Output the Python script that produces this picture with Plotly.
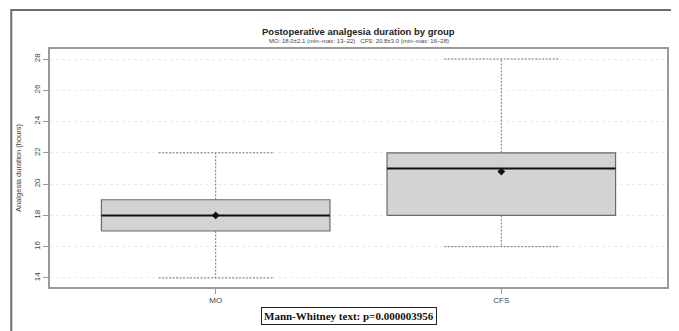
import plotly.graph_objects as go

# ---- data ----
groups = ["MO", "CFS"]
positions = [1, 2]
q1 = [17, 18]
medians = [18, 21]
q3 = [19, 22]
whisk_low = [14, 16]
whisk_high = [22, 28]
means = [18.0, 20.8]
y_ticks = [14, 16, 18, 20, 22, 24, 26, 28]

title = "Postoperative analgesia duration by group"
subtitle = "MO: 18.0±2.1 (min–max: 13–22)   CFS: 20.8±3.0 (min–max: 16–28)"
ylabel = "Analgesia duration (hours)"
note = "Mann-Whitney text: p=0.000003956"

BOX_HALF = 0.4
CAP_HALF = 0.2

fig = go.Figure()

for i, g in enumerate(groups):
    x = positions[i]
    # box
    fig.add_trace(go.Scatter(
        x=[x - BOX_HALF, x + BOX_HALF, x + BOX_HALF, x - BOX_HALF, x - BOX_HALF],
        y=[q1[i], q1[i], q3[i], q3[i], q1[i]],
        mode="lines", fill="toself", fillcolor="#d3d3d3",
        line=dict(color="#6a6a6a", width=1.2), hoverinfo="skip", showlegend=False))
    # whiskers
    for a, b in ((q3[i], whisk_high[i]), (q1[i], whisk_low[i])):
        fig.add_trace(go.Scatter(
            x=[x, x], y=[a, b], mode="lines",
            line=dict(color="#777777", width=1, dash="2px,1.5px"),
            hoverinfo="skip", showlegend=False))
    # caps
    for v in (whisk_high[i], whisk_low[i]):
        fig.add_trace(go.Scatter(
            x=[x - CAP_HALF, x + CAP_HALF], y=[v, v], mode="lines",
            line=dict(color="#777777", width=1, dash="2px,1.5px"),
            hoverinfo="skip", showlegend=False))
    # median
    fig.add_trace(go.Scatter(
        x=[x - BOX_HALF, x + BOX_HALF], y=[medians[i], medians[i]], mode="lines",
        line=dict(color="#111111", width=2), hoverinfo="skip", showlegend=False))

# means
fig.add_trace(go.Scatter(
    x=positions, y=means, mode="markers",
    marker=dict(symbol="diamond", size=6, color="#111111"),
    hoverinfo="skip", showlegend=False))

# page body has an 8px margin: work in figure-local pixel coordinates
OFF = 8
W, H = 679 - OFF, 331 - OFF
L, T = 48 - OFF, 49 - OFF
R = W - (669 - OFF)
B = H - (287 - OFF)
pw, ph = W - L - R, H - T - B

def px_x(px):
    return (px - OFF - L) / pw

def px_y(py):
    return (H - B - (py - OFF)) / ph

fig.update_layout(
    width=W, height=H,
    margin=dict(l=L, r=R, t=T, b=B),
    paper_bgcolor="white", plot_bgcolor="white",
    font=dict(family="Liberation Sans, Arial, sans-serif", color="#333333"),
    xaxis=dict(
        range=[0.42, 2.58], tickvals=positions, ticktext=groups,
        showgrid=False, zeroline=False, showline=True, mirror=True,
        linecolor="#9a9a9a", linewidth=1.5,
        ticks="outside", ticklen=5, tickcolor="#9a9a9a",
        tickfont=dict(size=8, color="#444444")),
    yaxis=dict(
        range=[13.42, 28.64], tickvals=y_ticks,
        showgrid=True, gridcolor="#ebebeb", griddash="dot", gridwidth=1,
        zeroline=False, showline=True, mirror=True,
        linecolor="#9a9a9a", linewidth=1.5,
        ticks="outside", ticklen=5, tickcolor="#9a9a9a", tickangle=-90,
        tickfont=dict(size=8, color="#444444"),
        title=dict(text=ylabel, font=dict(size=7.5, color="#444444"), standoff=10)),
    shapes=[dict(type="rect", xref="paper", yref="paper",
                 x0=px_x(9), x1=px_x(720), y0=px_y(380), y1=px_y(10),
                 line=dict(color="#6e6e6e", width=2), fillcolor="rgba(0,0,0,0)",
                 layer="above")],
    annotations=[
        dict(text="<b>" + title + "</b>", xref="paper", yref="paper",
             x=0.5, y=px_y(31), showarrow=False,
             font=dict(size=9.5, color="#222222"), xanchor="center", yanchor="middle"),
        dict(text=subtitle, xref="paper", yref="paper",
             x=0.5, y=px_y(41), showarrow=False,
             font=dict(size=6, color="#444444"), xanchor="center", yanchor="middle"),
        dict(text="<b>" + note + "</b>", xref="paper", yref="paper",
             x=px_x(349), y=px_y(316), showarrow=False,
             font=dict(size=11, color="#111111",
                       family="Liberation Serif, Times New Roman, serif"),
             bordercolor="#222222", borderwidth=1, borderpad=2, bgcolor="white",
             xanchor="center", yanchor="middle"),
    ],
)

fig.write_html("out.html")
